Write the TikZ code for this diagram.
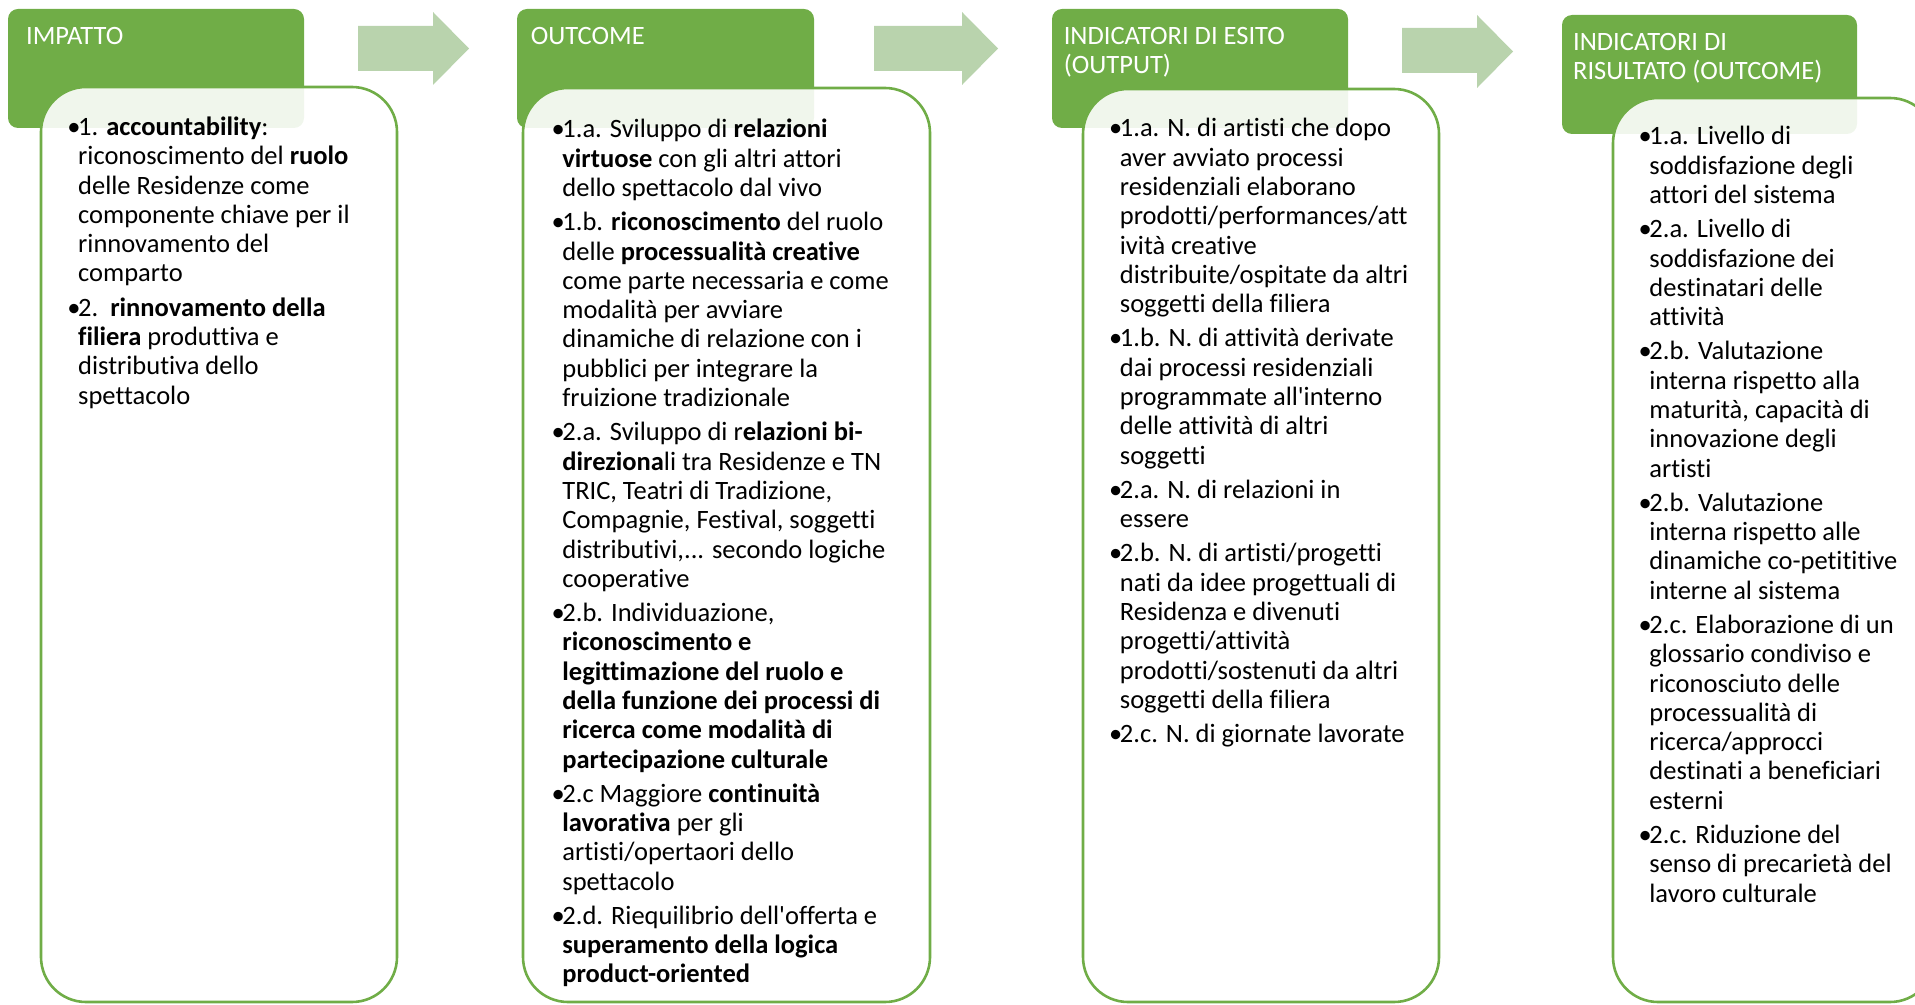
\documentclass[tikz,border=0pt]{standalone}
\usepackage{fontspec}
\setmainfont{Carlito}[Ligatures={TeXOff,NoCommon},Contextuals=NoAlternate]
\definecolor{hdrgreen}{HTML}{70AD47}
\definecolor{arrgreen}{HTML}{B9D3AD}
\newcommand\fst{\rule{0pt}{11pt}}
\newcommand\bul{\llap{•\hspace{-1.2pt}}}
\newcommand\pg{\\[2.44pt]}
\tikzset{
  hdrbox/.style={fill=hdrgreen, rounded corners=5pt},
  txtbox/.style={draw=hdrgreen, line width=1.3pt, fill=white, fill opacity=0.9, rounded corners=22.5pt},
  blockarrow/.style={fill=arrgreen},
  hdrtext/.style={anchor=north west, inner sep=0pt, align=left, text=white, font=\fontsize{13.25pt}{14.5pt}\selectfont},
  bodytext/.style={anchor=north west, inner sep=0pt, align=left, font=\fontsize{13.25pt}{14.655pt}\selectfont},
}
\begin{document}
\begin{tikzpicture}[x=0.5pt, y=-0.5pt]
\path[use as bounding box] (0,0) rectangle (1915,1005);
\begin{scope}
\clip (0,0) rectangle (1915,1005);
% headers
\fill[hdrbox] (8,9) rectangle (304,128);
\fill[hdrbox] (517,9) rectangle (814,128);
\fill[hdrbox] (1052,9) rectangle (1348,128);
\fill[hdrbox] (1562,15) rectangle (1857,134);
% text boxes
\path[txtbox] (41,87) rectangle (397,1002);
\path[txtbox] (523,88) rectangle (930,1002);
\path[txtbox] (1083,89) rectangle (1439,1002);
\path[txtbox] (1613,98) rectangle (1935,1002);
\end{scope}
% block arrows
\fill[blockarrow] (358,26) -- (433,26) -- (433,12) -- (469,48.5) -- (433,85) -- (433,71) -- (358,71) -- cycle;
\fill[blockarrow] (874,26) -- (962,26) -- (962,12) -- (998,48.5) -- (962,85) -- (962,71) -- (874,71) -- cycle;
\fill[blockarrow] (1402,28) -- (1477,28) -- (1477,15) -- (1513,51.5) -- (1477,88) -- (1477,73) -- (1402,73) -- cycle;
% header labels
\node[hdrtext] (h1) at (25.7,22) {\fst IMPATTO};
\node[hdrtext] (h2) at (530.4,22) {\fst OUTCOME};
\node[hdrtext] (h3) at (1063.4,22) {\fst INDICATORI DI ESITO\\(OUTPUT)};
\node[hdrtext] (h4) at (1572.7,28) {\fst INDICATORI DI\\RISULTATO (OUTCOME)};
% body texts
\node[bodytext] (t1) at (77.8,113) {\fst\bul 1. \textbf{accountability}:\\
riconoscimento del \textbf{ruolo}\\
delle Residenze come\\
componente chiave per il\\
rinnovamento del\\
comparto\pg
\bul 2.\ \ \textbf{rinnovamento della}\\
\textbf{filiera} produttiva e\\
distributiva dello\\
spettacolo};
\node[bodytext] (t2) at (562,115.5) {\fst\bul 1.a. Sviluppo di \textbf{relazioni}\\
\textbf{virtuose} con gli altri attori\\
dello spettacolo dal vivo\pg
\bul 1.b. \textbf{riconoscimento} del ruolo\\
delle \textbf{processualità creative}\\
come parte necessaria e come\\
modalità per avviare\\
dinamiche di relazione con i\\
pubblici per integrare la\\
fruizione tradizionale\pg
\bul 2.a. Sviluppo di r\textbf{elazioni bi-}\\
\textbf{direziona}li tra Residenze e TN\\
TRIC, Teatri di Tradizione,\\
Compagnie, Festival, soggetti\\
distributivi,... secondo logiche\\
cooperative\pg
\bul 2.b. Individuazione,\\
\textbf{riconoscimento e}\\
\textbf{legittimazione del ruolo e}\\
\textbf{della funzione dei processi di}\\
\textbf{ricerca come modalità di}\\
\textbf{partecipazione culturale}\pg
\bul 2.c Maggiore \textbf{continuità}\\
\textbf{lavorativa} per gli\\
artisti/opertaori dello\\
spettacolo\pg
\bul 2.d. Riequilibrio dell'offerta e\\
\textbf{superamento della logica}\\
\textbf{product-oriented}};
\node[bodytext] (t3) at (1119.5,114.5) {\fst\bul 1.a. N. di artisti che dopo\\
aver avviato processi\\
residenziali elaborano\\
prodotti/performances/att\\
ività creative\\
distribuite/ospitate da altri\\
soggetti della filiera\pg
\bul 1.b. N. di attività derivate\\
dai processi residenziali\\
programmate all'interno\\
delle attività di altri\\
soggetti\pg
\bul 2.a. N. di relazioni in\\
essere\pg
\bul 2.b. N. di artisti/progetti\\
nati da idee progettuali di\\
Residenza e divenuti\\
progetti/attività\\
prodotti/sostenuti da altri\\
soggetti della filiera\pg
\bul 2.c. N. di giornate lavorate};
\node[bodytext] (t4) at (1649,122.5) {\fst\bul 1.a. Livello di\\
soddisfazione degli\\
attori del sistema\pg
\bul 2.a. Livello di\\
soddisfazione dei\\
destinatari delle\\
attività\pg
\bul 2.b. Valutazione\\
interna rispetto alla\\
maturità, capacità di\\
innovazione degli\\
artisti\pg
\bul 2.b. Valutazione\\
interna rispetto alle\\
dinamiche co-petititive\\
interne al sistema\pg
\bul 2.c. Elaborazione di un\\
glossario condiviso e\\
riconosciuto delle\\
processualità di\\
ricerca/approcci\\
destinati a beneficiari\\
esterni\pg
\bul 2.c. Riduzione del\\
senso di precarietà del\\
lavoro culturale};
\end{tikzpicture}
\end{document}
